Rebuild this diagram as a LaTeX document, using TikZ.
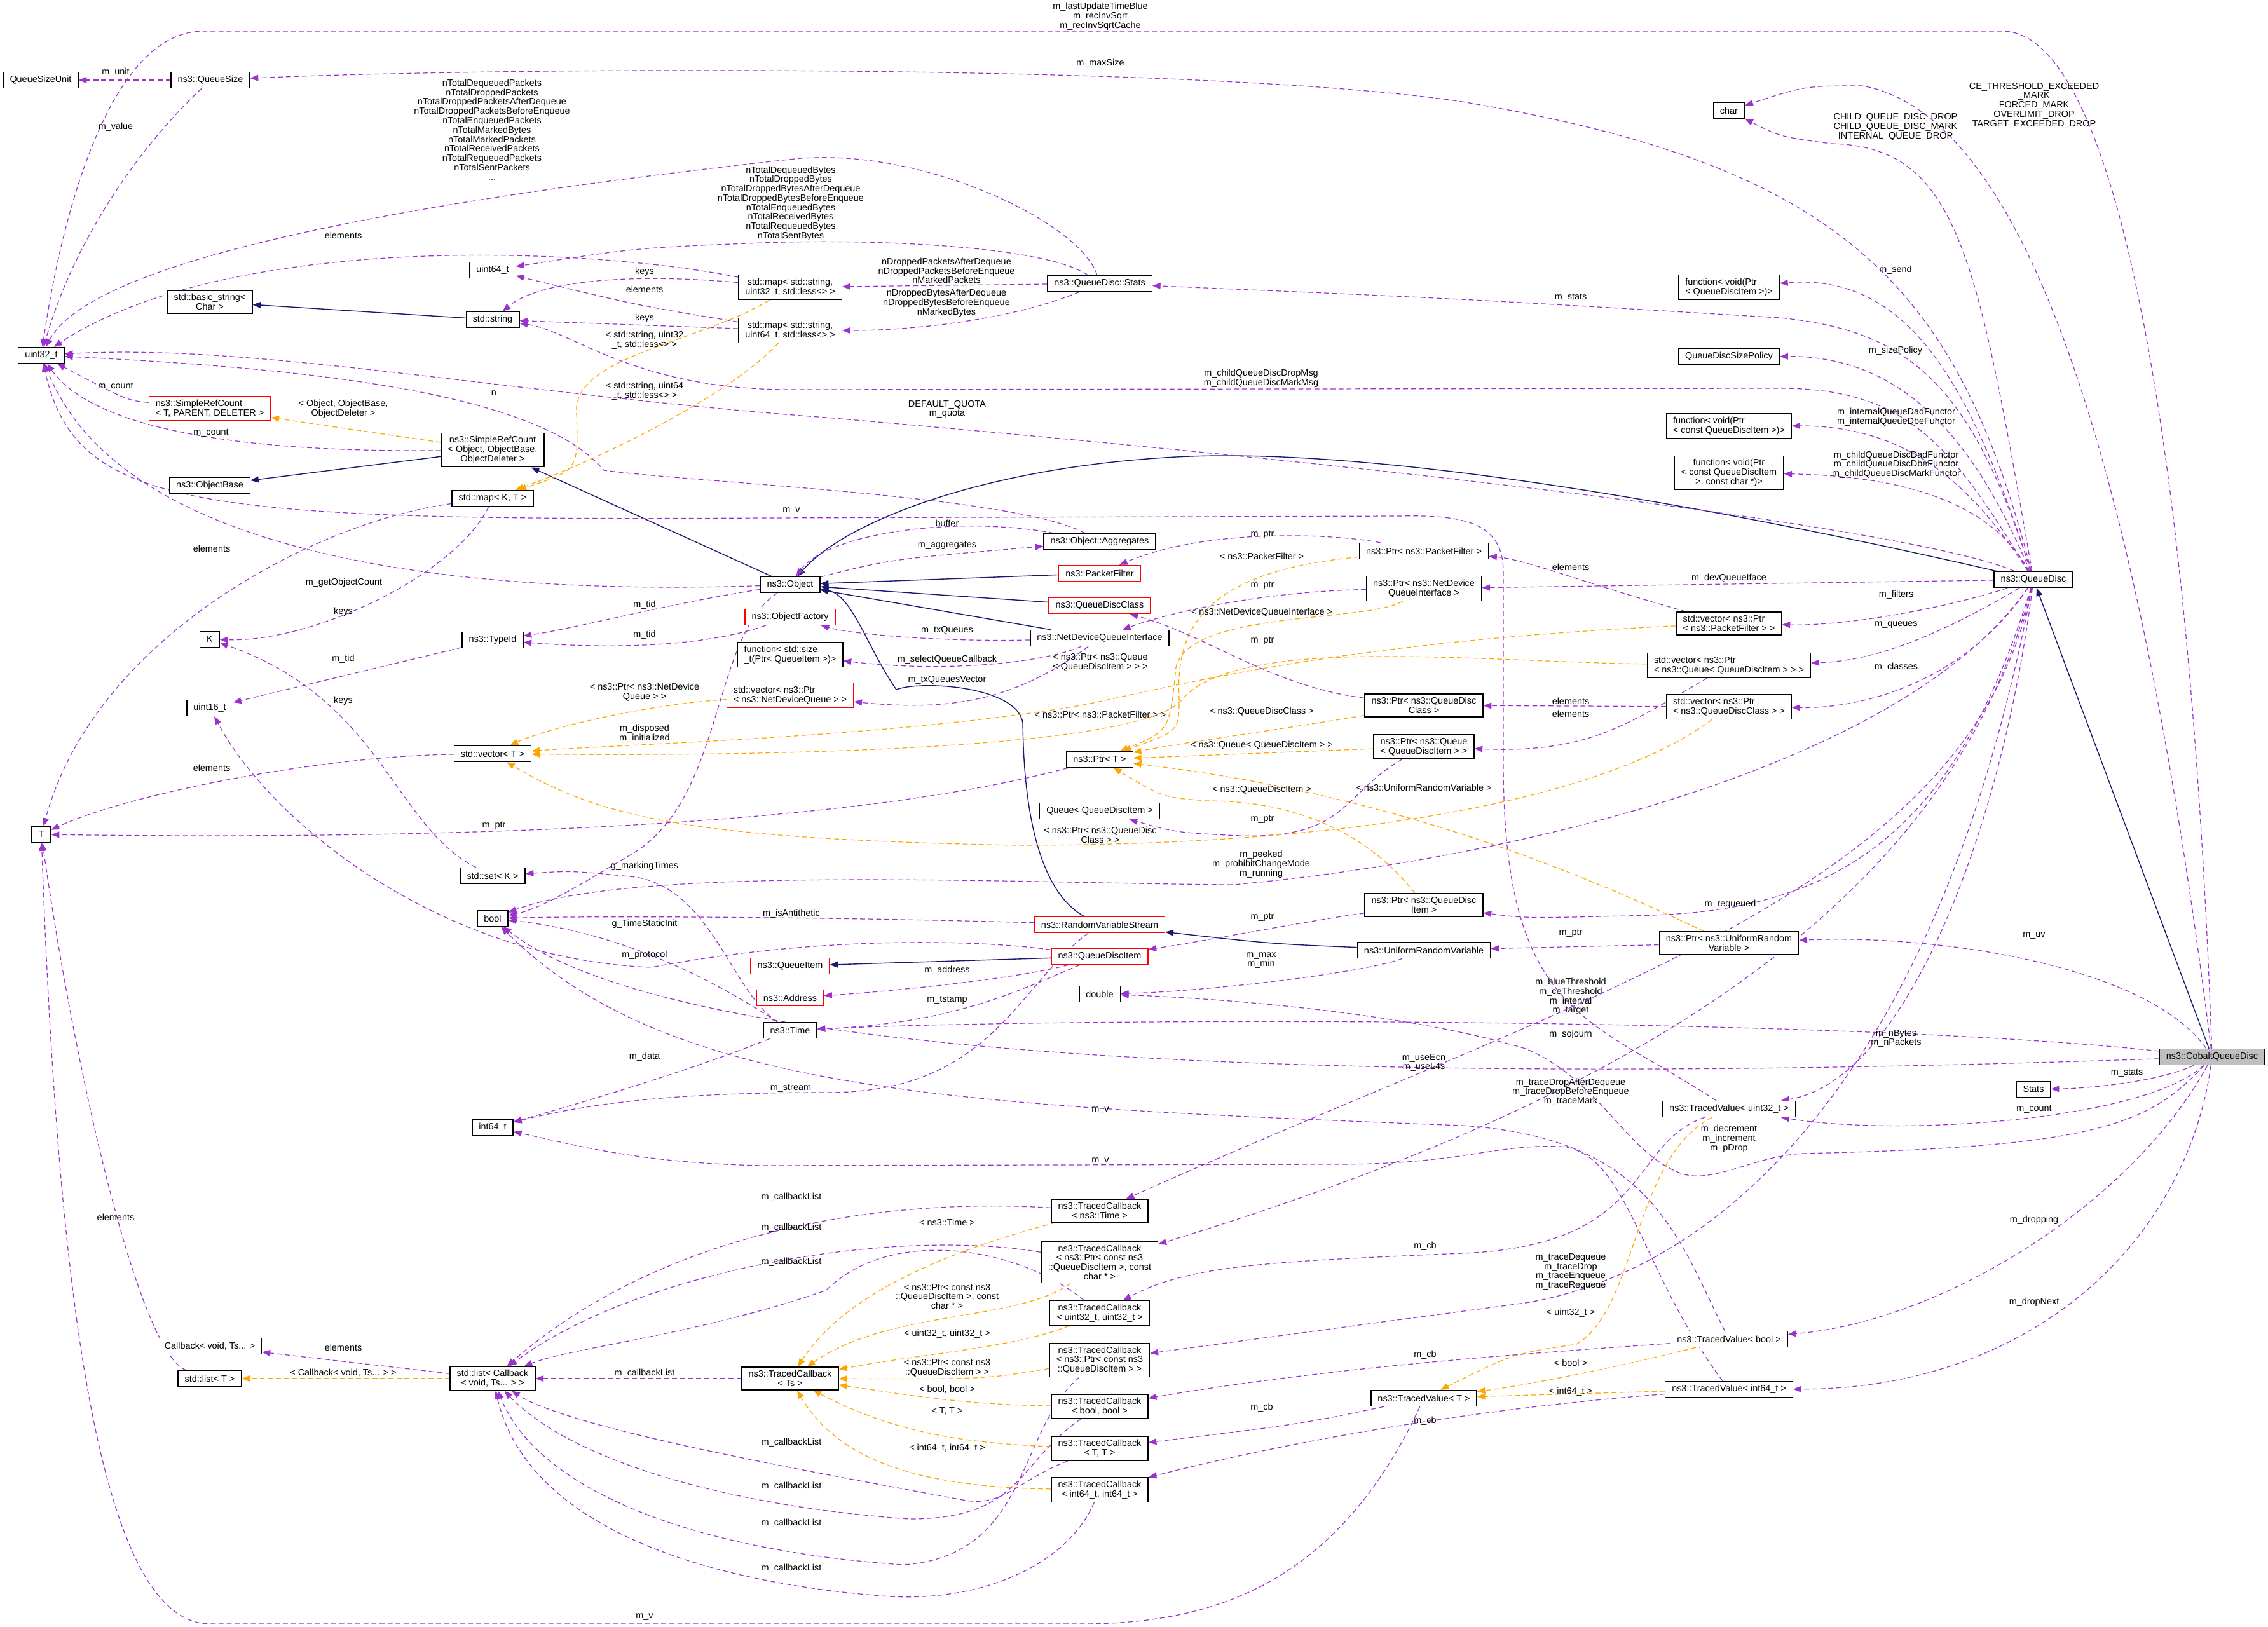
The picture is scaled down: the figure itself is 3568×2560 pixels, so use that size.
\documentclass[tikz,border=0pt]{standalone}
\usepackage{fontspec}
\setmainfont{Liberation Sans}
\usetikzlibrary{arrows.meta}
\pgfdeclarelayer{paper}
\pgfdeclarelayer{edges}
\pgfsetlayers{paper,edges,main}
\definecolor{usecol}{HTML}{9A32CD}
\definecolor{tplcol}{HTML}{FFA500}
\definecolor{inhcol}{HTML}{191970}
\newcommand{\dxfont}{\fontsize{4.1pt}{4.2pt}\selectfont}
\tikzset{
  cls/.style={draw=black, line width=0.4pt, fill=white, font=\dxfont, inner xsep=3pt, inner ysep=1.5pt, minimum height=7.1pt, align=center},
  clsl/.style={cls, align=left},
  redcls/.style={cls, draw=red},
  maincls/.style={cls, fill=gray!50},
  lbl/.style={font=\dxfont, align=center, inner sep=0pt},
  mem/.style={draw=usecol, line width=0.35pt, dash pattern=on 2.2pt off 1.4pt, -{Triangle[length=3.6pt,width=2.8pt]}},
  tpl/.style={mem, draw=tplcol},
  inh/.style={draw=inhcol, line width=0.4pt, solid, -{Triangle[length=3.6pt,width=2.8pt]}},
}
\begin{document}
\begin{tikzpicture}[x=0.01cm,y=-0.01cm]
  \begin{pgfonlayer}{paper}
    \fill[white] (0,0) rectangle (3568,2560);
  \end{pgfonlayer}
  \useasboundingbox (0,0) rectangle (3568,2560);
  \path
    (64,126) node[cls] (qsu) {QueueSizeUnit}
    (331,126) node[cls] (qs) {ns3::QueueSize}
    (65,559) node[cls] (u32) {uint32\_t}
    (775,425) node[cls] (u64) {uint64\_t}
    (330,475) node[cls] (bstr) {std::basic\_string<\\Char >}
    (775,503) node[cls] (str) {std::string}
    (330,643) node[redcls, align=left] (srct) {ns3::SimpleRefCount\\< T, PARENT, DELETER >}
    (775,708) node[cls] (srco) {ns3::SimpleRefCount\\< Object, ObjectBase,\\ObjectDeleter >}
    (330,764) node[cls] (obase) {ns3::ObjectBase}
    (775,784) node[cls] (mapkt) {std::map< K, T >}
    (1243,452) node[cls] (map32) {std::map< std::string,\\uint32\_t, std::less<> >}
    (1243,520) node[cls] (map64) {std::map< std::string,\\uint64\_t, std::less<> >}
    (1730,446) node[cls] (stats) {ns3::QueueDisc::Stats}
    (1730,852) node[cls] (aggr) {ns3::Object::Aggregates}
    (2720,174) node[cls] (chr) {char}
    (2720,452) node[clsl] (fsend) {function< void(Ptr\\< QueueDiscItem >)>}
    (2720,561) node[cls] (policy) {QueueDiscSizePolicy}
    (2720,670) node[clsl] (fdad) {function< void(Ptr\\< const QueueDiscItem >)>}
    (2720,744) node[cls] (fchild) {function< void(Ptr\\< const QueueDiscItem\\>, const char *)>}
    (330,1006) node[cls] (kk) {K}
    (775,1007) node[cls] (tid) {ns3::TypeId}
    (330,1114) node[cls] (u16) {uint16\_t}
    (775,1186) node[cls] (vect) {std::vector< T >}
    (65,1313) node[cls] (tt) {T}
    (775,1378) node[cls] (setk) {std::set< K >}
    (775,1445) node[cls] (bl) {bool}
    (1243,920) node[cls] (obj) {ns3::Object}
    (1730,902) node[redcls] (pf) {ns3::PacketFilter}
    (1730,953) node[redcls] (qdc) {ns3::QueueDiscClass}
    (1243,971) node[redcls] (ofac) {ns3::ObjectFactory}
    (1730,1004) node[cls] (ndqi) {ns3::NetDeviceQueueInterface}
    (1243,1030) node[clsl] (fsize) {function< std::size\\\_t(Ptr< QueueItem >)>}
    (1243,1094) node[redcls, align=left] (vndq) {std::vector< ns3::Ptr\\< ns3::NetDeviceQueue > >}
    (1730,1195) node[cls] (ptrt) {ns3::Ptr< T >}
    (1730,1276) node[cls] (queue) {Queue< QueueDiscItem >}
    (1730,1455) node[redcls] (rvs) {ns3::RandomVariableStream}
    (1730,1505) node[redcls] (qdi) {ns3::QueueDiscItem}
    (1243,1520) node[redcls] (qitem) {ns3::QueueItem}
    (1243,1570) node[redcls] (addr) {ns3::Address}
    (1730,1564) node[cls] (dbl) {double}
    (1243,1621) node[cls] (time) {ns3::Time}
    (2240,867) node[cls] (ppf) {ns3::Ptr< ns3::PacketFilter >}
    (2240,926) node[cls] (pndqi) {ns3::Ptr< ns3::NetDevice\\QueueInterface >}
    (2240,1110) node[cls] (pqdc) {ns3::Ptr< ns3::QueueDisc\\Class >}
    (2240,1175) node[cls] (pqueue) {ns3::Ptr< ns3::Queue\\< QueueDiscItem > >}
    (2240,1424) node[cls] (pqdi) {ns3::Ptr< ns3::QueueDisc\\Item >}
    (2240,1495) node[cls] (urv) {ns3::UniformRandomVariable}
    (3199,912) node[cls] (qd) {ns3::QueueDisc}
    (2720,981) node[clsl] (vpf) {std::vector< ns3::Ptr\\< ns3::PacketFilter > >}
    (2720,1047) node[clsl] (vqueue) {std::vector< ns3::Ptr\\< ns3::Queue< QueueDiscItem > > >}
    (2720,1112) node[clsl] (vqdc) {std::vector< ns3::Ptr\\< ns3::QueueDiscClass > >}
    (2720,1484) node[cls] (purv) {ns3::Ptr< ns3::UniformRandom\\Variable >}
    (3480,1663) node[maincls] (cq) {ns3::CobaltQueueDisc}
    (3199,1714) node[cls] (sts) {Stats}
    (2720,1745) node[cls] (tvu) {ns3::TracedValue< uint32\_t >}
    (775,1774) node[cls] (i64) {int64\_t}
    (330,2118) node[cls] (cbk) {Callback< void, Ts... >}
    (330,2169) node[cls] (listt) {std::list< T >}
    (775,2169) node[cls] (listcb) {std::list< Callback\\< void, Ts... > >}
    (1730,1905) node[cls] (tctime) {ns3::TracedCallback\\< ns3::Time >}
    (1730,1986) node[cls] (tcchar) {ns3::TracedCallback\\< ns3::Ptr< const ns3\\::QueueDiscItem >, const\\char * >}
    (1730,2066) node[cls] (tcuu) {ns3::TracedCallback\\< uint32\_t, uint32\_t >}
    (1730,2140) node[cls] (tcptr) {ns3::TracedCallback\\< ns3::Ptr< const ns3\\::QueueDiscItem > >}
    (1243,2169) node[cls] (tcts) {ns3::TracedCallback\\< Ts >}
    (1730,2213) node[cls] (tcbb) {ns3::TracedCallback\\< bool, bool >}
    (1730,2279) node[cls] (tctt) {ns3::TracedCallback\\< T, T >}
    (1730,2344) node[cls] (tcii) {ns3::TracedCallback\\< int64\_t, int64\_t >}
    (2240,2200) node[cls] (tvt) {ns3::TracedValue< T >}
    (2720,2107) node[cls] (tvb) {ns3::TracedValue< bool >}
    (2720,2186) node[cls] (tvi) {ns3::TracedValue< int64\_t >};
  \begin{pgfonlayer}{edges}
  % inheritance
  \begin{scope}[inh]
    \draw (str) to (bstr);
    \draw (srco) to (obase);
    \draw (obj) to (srco);
    \draw (pf) to (obj);
    \draw (qdc) to (obj);
    \draw (ndqi) to (obj);
    \draw (qdi) to (qitem);
    \draw (cq) to (qd);
    \draw (urv) .. controls (2000,1485) .. (rvs);
    \draw (qd) .. controls (2800,820) and (2200,700) .. (1850,719) .. controls (1550,735) and (1330,820) .. (obj);
    \draw (rvs) .. controls (1610,1390) and (1610,1180) .. (1609,1137) .. controls (1600,1080) and (1450,1070) .. (1410,1085) .. controls (1365,1020) and (1340,935) .. (obj);
  \end{scope}
  % members
  \begin{scope}[mem]
    \draw (cq) .. controls (3445,700) and (3330,49) .. (3150,49) -- (320,49) .. controls (170,49) and (95,350) .. (u32)
      node[lbl] at (1731,26) {m\_lastUpdateTimeBlue\\m\_recInvSqrt\\m\_recInvSqrtCache};
    \draw (cq) .. controls (3360,700) and (3180,180) .. (2930,135) .. controls (2840,135) .. (chr)
      node[lbl] at (3200,166) {CE\_THRESHOLD\_EXCEEDED\\\_MARK\\FORCED\_MARK\\OVERLIMIT\_DROP\\TARGET\_EXCEEDED\_DROP};
    \draw (cq) .. controls (3380,1520) and (3050,1470) .. (purv) node[lbl] at (3200,1472) {m\_uv};
    \draw (cq) .. controls (2900,1600) and (1700,1600) .. (time)
      node[lbl] at (2471,1568) {m\_blueThreshold\\m\_ceThreshold\\m\_interval\\m\_target};
    \draw (cq) .. controls (2400,1700) and (1100,1700) .. (bl) node[lbl] at (2240,1672) {m\_useEcn\\m\_useL4s};
    \draw (cq) .. controls (3400,1700) and (3300,1712) .. (sts) node[lbl] at (3346,1688) {m\_stats};
    \draw (cq) .. controls (3380,1760) and (3000,1790) .. (tvu) node[lbl] at (3200,1745) {m\_count};
    \draw (cq) .. controls (3380,1770) and (3300,1805) .. (2834,1815) .. controls (2760,1820) and (2700,1860) .. (2650,1848)
      .. controls (2560,1820) and (2520,1700) .. (2400,1650) .. controls (2200,1590) and (1900,1570) .. (dbl)
      node[lbl] at (2720,1792) {m\_decrement\\m\_increment\\m\_pDrop};
    \draw (cq) .. controls (3350,1900) and (3050,2080) .. (tvb) node[lbl] at (3200,1920) {m\_dropping};
    \draw (cq) .. controls (3440,1950) and (3200,2185) .. (tvi) node[lbl] at (3200,2049) {m\_dropNext};
    \draw (qs) to (qsu) node[lbl] at (182,114) {m\_unit};
    \draw (qs) .. controls (200,250) and (110,400) .. (u32) node[lbl] at (182,200) {m\_value};
    \draw (qd) .. controls (3080,450) and (2900,260) .. (2300,160) .. controls (1900,100) and (800,105) .. (qs)
      node[lbl] at (1731,100) {m\_maxSize};
    \draw (stats) .. controls (1700,350) and (1450,230) .. (1250,250) .. controls (700,310) and (150,400) .. (u32)
      node[lbl] at (774,204) {nTotalDequeuedPackets\\nTotalDroppedPackets\\nTotalDroppedPacketsAfterDequeue\\nTotalDroppedPacketsBeforeEnqueue\\nTotalEnqueuedPackets\\nTotalMarkedBytes\\nTotalMarkedPackets\\nTotalReceivedPackets\\nTotalRequeuedPackets\\nTotalSentPackets\\...};
    \draw (stats) .. controls (1650,390) and (1400,375) .. (1200,382) .. controls (1000,390) .. (u64)
      node[lbl] at (1244,320) {nTotalDequeuedBytes\\nTotalDroppedBytes\\nTotalDroppedBytesAfterDequeue\\nTotalDroppedBytesBeforeEnqueue\\nTotalEnqueuedBytes\\nTotalReceivedBytes\\nTotalRequeuedBytes\\nTotalSentBytes};
    \draw (stats) to (map32) node[lbl] at (1489,426) {nDroppedPacketsAfterDequeue\\nDroppedPacketsBeforeEnqueue\\nMarkedPackets};
    \draw (stats) .. controls (1600,500) and (1450,520) .. (map64)
      node[lbl] at (1489,477) {nDroppedBytesAfterDequeue\\nDroppedBytesBeforeEnqueue\\nMarkedBytes};
    \draw (map32) .. controls (900,385) and (350,370) .. (u32) node[lbl] at (540,370) {elements};
    \draw (map32) .. controls (1000,430) and (850,440) .. (str) node[lbl] at (1014,428) {keys};
    \draw (map64) .. controls (1000,480) .. (u64) node[lbl] at (1014,455) {elements};
    \draw (map64) to (str) node[lbl] at (1014,501) {keys};
    \draw (srct) .. controls (200,630) .. (u32) node[lbl] at (182,608) {m\_count};
    \draw (srco) .. controls (400,712) and (150,680) .. (u32) node[lbl] at (332,681) {m\_count};
    \draw (aggr) .. controls (1600,780) and (1100,760) .. (950,740) .. controls (850,620) and (500,580) .. (u32)
      node[lbl] at (777,619) {n};
    \draw (qd) .. controls (3070,700) and (3000,611) .. (2800,611) -- (1250,613) .. controls (1000,615) and (900,520) .. (str)
      node[lbl] at (1984,595) {m\_childQueueDiscDropMsg\\m\_childQueueDiscMarkMsg};
    \draw (qd) .. controls (3060,850) and (2500,760) .. (1300,657) .. controls (800,620) and (400,540) .. (u32)
      node[lbl] at (1490,644) {DEFAULT\_QUOTA\\m\_quota};
    \draw (obj) .. controls (800,935) and (200,900) .. (u32) node[lbl] at (541,917) {m\_getObjectCount};
    \draw (obj) .. controls (1050,950) and (900,990) .. (tid) node[lbl] at (1014,952) {m\_tid};
    \draw (ofac) .. controls (1100,1020) and (950,1020) .. (tid) node[lbl] at (1014,999) {m\_tid};
    \draw (tid) to (u16) node[lbl] at (540,1037) {m\_tid};
    \draw (mapkt) .. controls (720,900) and (500,1010) .. (kk) node[lbl] at (540,963) {keys};
    \draw (setk) .. controls (620,1300) and (600,1100) .. (kk) node[lbl] at (540,1103) {keys};
    \draw (mapkt) .. controls (500,820) and (150,1000) .. (tt) node[lbl] at (333,863) {elements};
    \draw (vect) .. controls (500,1190) and (200,1250) .. (tt) node[lbl] at (333,1208) {elements};
    \draw (ptrt) .. controls (1300,1310) and (600,1320) .. (tt) node[lbl] at (777,1299) {m\_ptr};
    \draw (obj) .. controls (1120,1000) and (1140,1250) .. (1000,1340) .. controls (900,1400) and (850,1430) .. (bl)
      node[lbl] at (1014,1154) {m\_disposed\\m\_initialized};
    \draw (obj) .. controls (1400,880) .. (aggr) node[lbl] at (1490,858) {m\_aggregates};
    \draw (aggr) .. controls (1500,810) and (1300,840) .. (obj) node[lbl] at (1490,823) {buffer};
    \draw (ndqi) .. controls (1500,1010) and (1350,1000) .. (ofac) node[lbl] at (1490,992) {m\_txQueues};
    \draw (ndqi) .. controls (1650,1040) and (1500,1060) .. (fsize) node[lbl] at (1490,1038) {m\_selectQueueCallback};
    \draw (ndqi) .. controls (1600,1100) and (1500,1120) .. (vndq) node[lbl] at (1490,1070) {m\_txQueuesVector};
    \draw (ppf) .. controls (2100,840) and (1900,830) .. (pf) node[lbl] at (1986,841) {m\_ptr};
    \draw (pndqi) .. controls (2000,930) and (1850,960) .. (ndqi) node[lbl] at (1986,921) {m\_ptr};
    \draw (pqdc) .. controls (2000,1080) and (1900,1000) .. (qdc) node[lbl] at (1986,1008) {m\_ptr};
    \draw (pqueue) .. controls (2110,1250) and (2120,1320) .. (1950,1315) .. controls (1850,1310) .. (queue)
      node[lbl] at (1986,1289) {m\_ptr};
    \draw (purv) to (urv) node[lbl] at (2471,1468) {m\_ptr};
    \draw (pqdi) .. controls (2050,1450) and (1900,1480) .. (qdi) node[lbl] at (1986,1443) {m\_ptr};
    \draw (urv) .. controls (2150,1530) and (1900,1560) .. (dbl) node[lbl] at (1984,1511) {m\_max\\m\_min};
    \draw (rvs) .. controls (1400,1445) and (1000,1440) .. (bl) node[lbl] at (1245,1438) {m\_isAntithetic};
    \draw (rvs) .. controls (1600,1550) and (1560,1720) .. (1300,1719) .. controls (1100,1719) and (950,1730) .. (i64)
      node[lbl] at (1244,1712) {m\_stream};
    \draw (qdi) .. controls (1600,1540) and (1400,1560) .. (addr) node[lbl] at (1490,1527) {m\_address};
    \draw (qdi) .. controls (1600,1560) and (1500,1610) .. (time) node[lbl] at (1490,1573) {m\_tstamp};
    \draw (qdi) .. controls (1550,1480) and (1300,1470) .. (1025,1522) .. controls (700,1510) and (430,1300) .. (u16)
      node[lbl] at (1014,1503) {m\_protocol};
    \draw (time) .. controls (1100,1680) and (900,1740) .. (i64) node[lbl] at (1014,1663) {m\_data};
    \draw (time) .. controls (1150,1560) and (1120,1400) .. (1000,1380) .. controls (900,1370) .. (setk)
      node[lbl] at (1014,1363) {g\_markingTimes};
    \draw (time) .. controls (1150,1560) and (1000,1470) .. (bl) node[lbl] at (1014,1454) {g\_TimeStaticInit};
    \draw (qd) .. controls (3000,1200) and (2400,1350) .. (1940,1392) .. controls (1600,1390) and (1000,1360) .. (bl)
      node[lbl] at (1984,1360) {m\_peeked\\m\_prohibitChangeMode\\m\_running};
    \draw (vpf) .. controls (2500,920) and (2400,880) .. (ppf) node[lbl] at (2471,892) {elements};
    \draw (qd) to (pndqi) node[lbl] at (2720,910) {m\_devQueueIface};
    \draw (qd) .. controls (3050,960) and (2900,985) .. (vpf) node[lbl] at (2983,936) {m\_filters};
    \draw (qd) .. controls (3050,1000) and (2950,1040) .. (vqueue) node[lbl] at (2983,983) {m\_queues};
    \draw (qd) .. controls (3100,1060) and (2950,1115) .. (vqdc) node[lbl] at (2983,1050) {m\_classes};
    \draw (vqdc) to (pqdc) node[lbl] at (2471,1103) {elements};
    \draw (vqueue) .. controls (2560,1140) and (2500,1185) .. (pqueue) node[lbl] at (2471,1123) {elements};
    \draw (qd) .. controls (3080,1300) and (2900,1430) .. (2600,1440) .. controls (2400,1445) .. (pqdi)
      node[lbl] at (2722,1423) {m\_requeued};
    \draw (qd) .. controls (3100,600) and (3000,520) .. (2800,500) .. controls (2300,470) .. (stats)
      node[lbl] at (2471,468) {m\_stats};
    \draw (qd) .. controls (3100,600) and (3000,430) .. (fsend) node[lbl] at (2982,425) {m\_send};
    \draw (qd) .. controls (3110,700) and (3000,560) .. (policy) node[lbl] at (2982,552) {m\_sizePolicy};
    \draw (qd) .. controls (3100,760) and (3000,670) .. (fdad)
      node[lbl] at (2983,656) {m\_internalQueueDadFunctor\\m\_internalQueueDbeFunctor};
    \draw (qd) .. controls (3150,820) and (3050,750) .. (fchild)
      node[lbl] at (2983,731) {m\_childQueueDiscDadFunctor\\m\_childQueueDiscDbeFunctor\\m\_childQueueDiscMarkFunctor};
    \draw (qd) .. controls (3110,400) and (3080,230) .. (2880,226) .. controls (2800,215) .. (chr)
      node[lbl] at (2982,200) {CHILD\_QUEUE\_DISC\_DROP\\CHILD\_QUEUE\_DISC\_MARK\\INTERNAL\_QUEUE\_DROP};
    \draw (qd) .. controls (3150,1300) and (3000,1700) .. (tvu) node[lbl] at (2983,1634) {m\_nBytes\\m\_nPackets};
    \draw (qd) .. controls (3100,1400) and (2500,1560) .. (tctime) node[lbl] at (2471,1628) {m\_sojourn};
    \draw (qd) .. controls (3050,1500) and (2400,1780) .. (tcchar)
      node[lbl] at (2471,1718) {m\_traceDropAfterDequeue\\m\_traceDropBeforeEnqueue\\m\_traceMark};
    \draw (qd) .. controls (3050,1700) and (2700,2000) .. (2400,2050) .. controls (2100,2090) .. (tcptr)
      node[lbl] at (2471,2001) {m\_traceDequeue\\m\_traceDrop\\m\_traceEnqueue\\m\_traceRequeue};
    \draw (tvu) .. controls (2560,1800) and (2600,1960) .. (2300,1972) .. controls (2000,1985) and (1870,1990) .. (tcuu)
      node[lbl] at (2242,1961) {m\_cb};
    \draw (tvb) .. controls (2400,2130) and (2100,2150) .. (tcbb) node[lbl] at (2242,2132) {m\_cb};
    \draw (tvt) .. controls (2050,2240) .. (tctt) node[lbl] at (1985,2215) {m\_cb};
    \draw (tvi) .. controls (2400,2210) and (2100,2250) .. (tcii) node[lbl] at (2242,2236) {m\_cb};
    \draw (tvt) .. controls (2100,2500) and (1900,2555) .. (1700,2555) -- (330,2555) .. controls (150,2555) and (90,2000) .. (tt)
      node[lbl] at (1014,2544) {m\_v};
    \draw (tvb) .. controls (2640,1950) and (2600,1790) .. (2300,1771) .. controls (1500,1740) and (1050,1720) .. (bl)
      node[lbl] at (1731,1747) {m\_v};
    \draw (tvu) .. controls (2500,1600) and (2365,1600) .. (2365,1200) -- (2365,900) .. controls (2365,820) and (2300,810) .. (2200,812)
      -- (1200,815) .. controls (300,820) and (120,800) .. (u32) node[lbl] at (1245,804) {m\_v};
    \draw (tvi) .. controls (2580,2000) and (2560,1810) .. (2454,1804) .. controls (2350,1800) and (2300,1832) .. (2100,1832)
      -- (1200,1834) .. controls (1000,1830) and (900,1800) .. (i64) node[lbl] at (1731,1827) {m\_v};
    \draw (tcts) to (listcb) node[lbl] at (1014,2161) {m\_callbackList};
    \draw (tctime) .. controls (1400,1885) and (1050,1930) .. (listcb) node[lbl] at (1245,1884) {m\_callbackList};
    \draw (tcchar) .. controls (1400,1930) and (1000,2000) .. (listcb) node[lbl] at (1245,1932) {m\_callbackList};
    \draw (tcuu) .. controls (1600,1960) and (1400,1930) .. (1300,2030) .. controls (1100,2100) and (900,2120) .. (listcb)
      node[lbl] at (1245,1986) {m\_callbackList};
    \draw (tctt) .. controls (1600,2330) and (1580,2370) .. (1520,2361) .. controls (1300,2320) and (900,2250) .. (listcb)
      node[lbl] at (1245,2270) {m\_callbackList};
    \draw (tcbb) .. controls (1600,2300) and (1610,2390) .. (1430,2390) .. controls (1150,2370) and (900,2300) .. (listcb)
      node[lbl] at (1245,2339) {m\_callbackList};
    \draw (tcptr) .. controls (1600,2250) and (1620,2450) .. (1420,2462) .. controls (1100,2440) and (850,2350) .. (listcb)
      node[lbl] at (1245,2397) {m\_callbackList};
    \draw (tcii) .. controls (1680,2460) and (1550,2520) .. (1400,2512) .. controls (1100,2490) and (830,2400) .. (listcb)
      node[lbl] at (1245,2468) {m\_callbackList};
    \draw (listcb) to (cbk) node[lbl] at (540,2120) {elements};
    \draw (listt) .. controls (220,2130) and (120,1700) .. (tt) node[lbl] at (182,1915) {elements};
  \end{scope}
  % template instances
  \begin{scope}[tpl]
    \draw (map32) .. controls (1100,540) and (900,560) .. (907,650) .. controls (910,740) .. (mapkt)
      node[lbl] at (1014,535) {< std::string, uint32\\\_t, std::less<> >};
    \draw (map64) .. controls (1150,620) and (950,720) .. (mapkt)
      node[lbl] at (1014,615) {< std::string, uint64\\\_t, std::less<> >};
    \draw (srco) to (srct) node[lbl] at (540,643) {< Object, ObjectBase,\\ObjectDeleter >};
    \draw (vndq) .. controls (1000,1110) and (850,1150) .. (vect)
      node[lbl] at (1014,1089) {< ns3::Ptr< ns3::NetDevice\\Queue > >};
    \draw (vpf) .. controls (2100,1010) and (1850,1080) .. (1700,1110) .. controls (1400,1160) and (1000,1170) .. (vect)
      node[lbl] at (1731,1124) {< ns3::Ptr< ns3::PacketFilter > >};
    \draw (vqueue) .. controls (2300,1040) and (1950,1000) .. (1860,1100) .. controls (1800,1180) and (1200,1190) .. (vect)
      node[lbl] at (1731,1042) {< ns3::Ptr< ns3::Queue\\< QueueDiscItem > > >};
    \draw (vqdc) .. controls (2550,1240) and (2200,1330) .. (1600,1330) .. controls (1100,1320) and (950,1290) .. (vect)
      node[lbl] at (1731,1314) {< ns3::Ptr< ns3::QueueDisc\\Class > >};
    \draw (ppf) .. controls (1880,900) and (1850,1000) .. (1855,1100) .. controls (1855,1150) .. (ptrt)
      node[lbl] at (1985,875) {< ns3::PacketFilter >};
    \draw (pndqi) .. controls (2150,980) and (1870,960) .. (1850,1050) .. controls (1840,1150) .. (ptrt)
      node[lbl] at (1985,964) {< ns3::NetDeviceQueueInterface >};
    \draw (pqdc) .. controls (2000,1150) and (1850,1170) .. (ptrt) node[lbl] at (1985,1120) {< ns3::QueueDiscClass >};
    \draw (pqueue) to (ptrt) node[lbl] at (1985,1173) {< ns3::Queue< QueueDiscItem > >};
    \draw (purv) .. controls (2500,1380) and (2200,1250) .. (ptrt) node[lbl] at (2240,1239) {< ns3::UniformRandomVariable >};
    \draw (pqdi) .. controls (2160,1320) and (2050,1260) .. (1900,1260) .. controls (1830,1255) .. (ptrt)
      node[lbl] at (1985,1243) {< ns3::QueueDiscItem >};
    \draw (tvu) .. controls (2570,1820) and (2575,2060) .. (2480,2115) .. controls (2380,2130) .. (tvt)
      node[lbl] at (2471,2066) {< uint32\_t >};
    \draw (tvb) .. controls (2550,2150) and (2400,2180) .. (tvt) node[lbl] at (2471,2144) {< bool >};
    \draw (tvi) to (tvt) node[lbl] at (2471,2190) {< int64\_t >};
    \draw (tctime) .. controls (1450,1980) and (1320,2050) .. (tcts) node[lbl] at (1490,1923) {< ns3::Time >};
    \draw (tcchar) .. controls (1600,2080) and (1400,2060) .. (tcts)
      node[lbl] at (1490,2040) {< ns3::Ptr< const ns3\\::QueueDiscItem >, const\\char * >};
    \draw (tcuu) .. controls (1600,2120) and (1450,2130) .. (tcts) node[lbl] at (1490,2099) {< uint32\_t, uint32\_t >};
    \draw (tcptr) .. controls (1550,2170) .. (tcts) node[lbl] at (1490,2152) {< ns3::Ptr< const ns3\\::QueueDiscItem > >};
    \draw (tcbb) .. controls (1500,2210) and (1400,2190) .. (tcts) node[lbl] at (1490,2186) {< bool, bool >};
    \draw (tctt) .. controls (1500,2270) and (1400,2250) .. (tcts) node[lbl] at (1490,2220) {< T, T >};
    \draw (tcii) .. controls (1450,2340) and (1320,2300) .. (tcts) node[lbl] at (1490,2279) {< int64\_t, int64\_t >};
    \draw (listcb) to (listt) node[lbl] at (540,2160) {< Callback< void, Ts... > >};
  \end{scope}
  \end{pgfonlayer}
\end{tikzpicture}
\end{document}
